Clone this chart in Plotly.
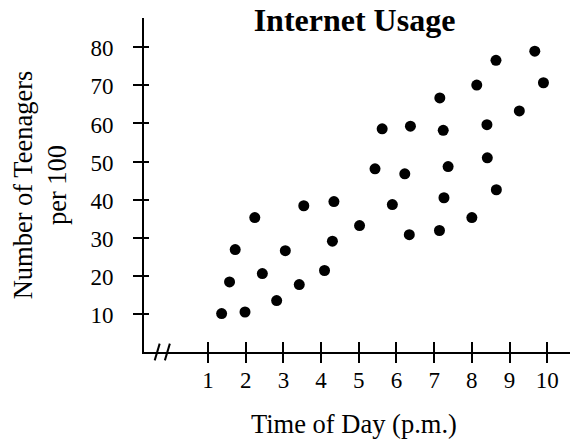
import plotly.graph_objects as go

# ---- data ----
time_pm = [1.36, 1.98, 1.57, 1.72, 2.24, 2.44, 2.82, 3.05, 3.42, 3.54,
           4.09, 4.30, 4.34, 5.02, 5.43, 5.62, 5.89, 6.22, 6.34, 6.37,
           7.15, 7.14, 7.24, 7.26, 7.37, 8.00, 8.13, 8.40, 8.41, 8.64,
           8.65, 9.26, 9.67, 9.90]
teens_per_100 = [10.1, 10.5, 18.4, 26.9, 35.3, 20.6, 13.5, 26.6, 17.7, 38.4,
                 21.4, 29.1, 39.5, 33.2, 48.1, 58.6, 38.7, 46.8, 30.8, 59.3,
                 66.7, 31.9, 58.2, 40.5, 48.7, 35.3, 70.1, 59.7, 51.0, 76.6,
                 42.6, 63.3, 79.0, 70.7]
x_ticks = [1, 2, 3, 4, 5, 6, 7, 8, 9, 10]
y_ticks = [10, 20, 30, 40, 50, 60, 70, 80]
break_marks_x = [-0.35, -0.08]

FONT = "Liberation Serif, Times New Roman, serif"
X_RANGE = [-0.70, 10.79]
Y_RANGE = [0.0, 87.7]

# the page body adds an 8px offset, so the figure is drawn 8px smaller
W, H = 570, 436
ML, MR, MT, MB = 136, 1, 10, 92
PLOT_W = W - ML - MR
PLOT_H = H - MT - MB

fig = go.Figure()
fig.add_trace(go.Scatter(
    x=time_pm, y=teens_per_100, mode="markers",
    marker=dict(size=11, color="black", line=dict(width=0)),
    showlegend=False, hoverinfo="x+y"))

# invisible trace on overlay axes so they render (inner halves of ticks)
fig.add_trace(go.Scatter(x=[None], y=[None], xaxis="x2", yaxis="y2",
                         showlegend=False, hoverinfo="skip"))

fig.update_layout(
    width=W, height=H,
    margin=dict(l=ML, r=MR, t=MT, b=MB),
    paper_bgcolor="white", plot_bgcolor="white",
    font=dict(family=FONT, color="black"),
    title=dict(text="<b>Internet Usage</b>", font=dict(size=32, family=FONT),
               x=(354.5 - 8) / W, xref="container", xanchor="center",
               y=1 - (19.5 - 8) / H, yref="container", yanchor="middle"),
    xaxis=dict(range=X_RANGE, tickvals=x_ticks, ticks="outside", ticklen=9,
               tickwidth=2, tickcolor="black", showline=True, linewidth=2,
               linecolor="black", showgrid=False, zeroline=False,
               tickfont=dict(size=23), ticklabelstandoff=-3),
    yaxis=dict(range=Y_RANGE, tickvals=y_ticks, ticks="outside", ticklen=9,
               tickwidth=2, tickcolor="black", showline=True, linewidth=2,
               linecolor="black", showgrid=False, zeroline=False,
               tickfont=dict(size=23), ticklabelstandoff=15,
               ticklabelshift=1,
               title=dict(text="Number of Teenagers<br>per 100",
                          font=dict(size=26.5), standoff=17)),
    xaxis2=dict(range=X_RANGE, tickvals=x_ticks, overlaying="x", anchor="y2",
                side="bottom", ticks="inside", ticklen=10, tickwidth=2,
                tickcolor="black", showticklabels=False, showline=False,
                showgrid=False, zeroline=False),
    yaxis2=dict(range=Y_RANGE, tickvals=y_ticks, overlaying="y", anchor="x2",
                side="left", ticks="inside", ticklen=5, tickwidth=2,
                tickcolor="black", showticklabels=False, showline=False,
                showgrid=False, zeroline=False),
)

# x-axis title, centred where the reference centres it
fig.add_annotation(text="Time of Day (p.m.)", font=dict(size=26.5),
                   xref="paper", yref="paper",
                   x=(354.4 - 8 - ML) / PLOT_W, xanchor="center",
                   y=-(424 - 8 - MT - PLOT_H) / PLOT_H, yanchor="middle",
                   showarrow=False)

for bx in break_marks_x:
    fig.add_shape(type="line", xref="x", yref="paper",
                  x0=bx - 0.066, y0=-0.025, x1=bx + 0.066, y1=0.025,
                  line=dict(color="black", width=2))

fig.write_html("out.html")
